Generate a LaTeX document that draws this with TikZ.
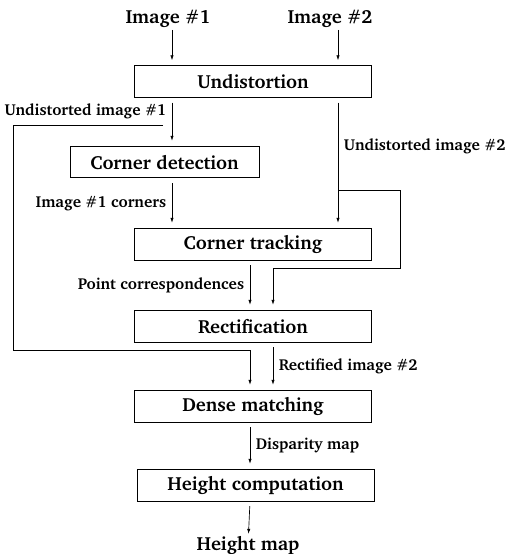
\documentclass[tikz,border=0pt]{standalone}
\usepackage[T1]{fontenc}
\usepackage{charter}
\usetikzlibrary{arrows.meta}

\tikzset{
  stage/.style={draw, minimum width=142pt, minimum height=19pt, font=\fontsize{11.4}{14}\bfseries},
  io/.style={inner sep=1pt, font=\fontsize{11.4}{14}\bfseries},
  lbl/.style={font=\fontsize{9.5}{11.5}\bfseries},
  flow/.style={->, shorten <=3pt, shorten >=3pt},
  >={Latex[length=3pt,width=2pt]}
}

\begin{document}
\begin{tikzpicture}[x=0.6pt, y=-0.6pt]
  \useasboundingbox (0,0) rectangle (509,554);

  % columns of the arrows
  \coordinate (ca) at (172,0);
  \coordinate (cb) at (250,0);
  \coordinate (cc) at (273,0);
  \coordinate (cd) at (338,0);

  \node[io] (img1) at (168,19) {Image \#1};
  \node[io] (img2) at (330,19) {Image \#2};
  \node[stage] (und) at (253,81.5) {Undistortion};
  \node[stage, minimum width=113.4pt] (cdet) at (164.5,162) {Corner detection};
  \node[stage] (ctrack) at (253,244) {Corner tracking};
  \node[stage] (rect) at (253,326) {Rectification};
  \node[stage] (dense) at (253,406) {Dense matching};
  \node[stage] (hcomp) at (255.5,485) {Height computation};
  \node[io] (hmap) at (248,545) {Height map};

  \draw[->, shorten >=3pt] (img1.south -| ca) -- (und.north -| ca);
  \draw[->, shorten >=3pt] (img2.south -| cd) -- (und.north -| cd);

  \draw[flow] (und.south -| ca) -- node[pos=.29, left, lbl] {Undistorted image \#1} (cdet.north -| ca);
  \draw[flow] (und.south -| cd) -- node[pos=.37, right, lbl] {Undistorted image \#2} (ctrack.north -| cd);
  \draw[flow] (cdet.south -| ca) -- node[left, lbl] {Image \#1 corners} (ctrack.north -| ca);
  \draw[flow] (ctrack.south -| cb) -- node[left, lbl] {Point correspondences} (rect.north -| cb);
  \draw[flow] (rect.south -| cc) -- node[right, lbl] {Rectified image \#2} (dense.north -| cc);
  \draw[flow] (dense.south -| cb) -- node[right, lbl] {Disparity map} (hcomp.north -| cb);
  \draw[->, shorten <=3pt] (hcomp.south -| cb) -- (hmap);

  % side routes
  \coordinate (tapL) at (163,125);
  \coordinate (tapR) at (338,190);
  \draw[->, shorten >=3pt] (tapL) -- (13,125) |- (250,350) -- (dense.north -| cb);
  \draw[->, shorten >=3pt] (tapR) -- (400,190) |- (273,268) -- (rect.north -| cc);
\end{tikzpicture}
\end{document}
